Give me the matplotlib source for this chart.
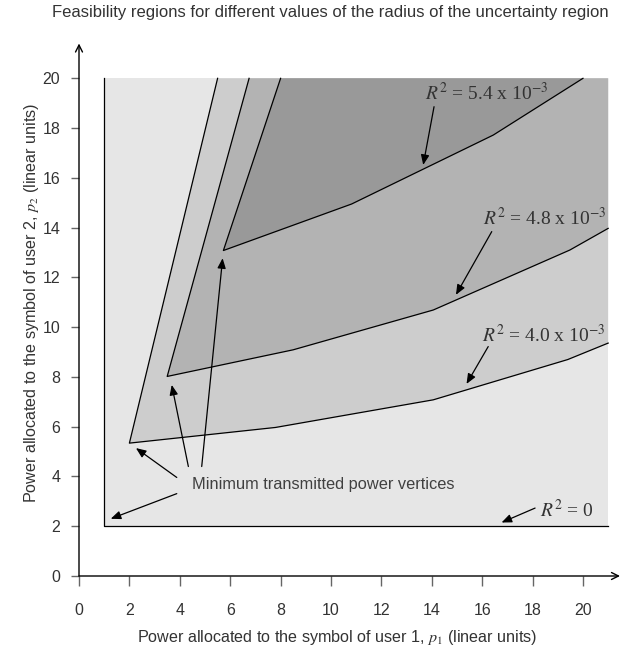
import matplotlib.pyplot as plt

plt.rcParams['font.family'] = ['Liberation Sans', 'DejaVu Sans']
plt.rcParams['mathtext.fontset'] = 'stix'

# Grenzen der Bereiche (p1, p2)
r0_p1 = [1.0, 1.0, 21.0]
r0_p2 = [20.0, 2.0, 2.0]

r40_p1 = [5.5, 2.0, 7.8, 14.06, 19.4, 21.0]
r40_p2 = [20.0, 5.34, 5.97, 7.08, 8.7, 9.36]

r48_p1 = [6.75, 3.5, 8.5, 14.06, 19.48, 21.0]
r48_p2 = [20.0, 8.02, 9.09, 10.69, 13.1, 13.97]

r54_p1 = [8.0, 5.73, 10.82, 16.44, 20.0]
r54_p2 = [20.0, 13.08, 14.95, 17.72, 20.0]

x_ticks = list(range(0, 21, 2))
y_ticks = list(range(0, 21, 2))

p_max = 21.0
txt_col = '#333333'

fig = plt.figure(figsize=(6.2, 6.52), dpi=100)
ax = fig.add_axes([79/620, 76/652, 541/620, 532.5/652])
ax.set_xlim(0, 21.47)
ax.set_ylim(0, 21.4)

# Flaechen (heller -> dunkler)
ax.fill([1, 1, p_max, p_max], [20, 2, 2, 20], color='#e6e6e6', lw=0, zorder=1)
ax.fill(r40_p1 + [p_max], r40_p2 + [20], color='#cdcdcd', lw=0, zorder=2)
ax.fill(r48_p1 + [p_max], r48_p2 + [20], color='#b3b3b3', lw=0, zorder=3)
ax.fill(r54_p1, r54_p2, color='#999999', lw=0, zorder=4)

for px, py in [(r0_p1, r0_p2), (r40_p1, r40_p2), (r48_p1, r48_p2), (r54_p1, r54_p2)]:
    ax.plot(px, py, color='black', lw=0.9, zorder=5)

# Achsen mit Pfeilen
for s in ax.spines.values():
    s.set_visible(False)
ax.annotate('', xy=(1, 0), xytext=(0, 0), xycoords='axes fraction',
            arrowprops=dict(arrowstyle='->,head_length=0.5,head_width=0.25', lw=1, color='black',
                            shrinkA=0, shrinkB=0))
ax.annotate('', xy=(0, 1), xytext=(0, 0), xycoords='axes fraction',
            arrowprops=dict(arrowstyle='->,head_length=0.5,head_width=0.25', lw=1, color='black',
                            shrinkA=0, shrinkB=0))

ax.set_xticks(x_ticks)
ax.set_yticks(y_ticks)
ax.tick_params(axis='x', length=7.5, width=1, color='#666666', pad=12, labelsize=11.5, labelcolor=txt_col)
ax.tick_params(axis='y', length=5.5, width=1, color='#666666', pad=8, labelsize=11.5, labelcolor=txt_col)

ax.set_xlabel(r'Power allocated to the symbol of user 1, $p_{\mathit{1}}$ (linear units)',
              fontsize=11.6, color=txt_col)
ax.set_ylabel(r'Power allocated to the symbol of user 2, $p_{\mathit{2}}$ (linear units)',
              fontsize=11.6, color=txt_col)
# Beschriftungen etwas versetzt wie im Original
ax.xaxis.set_label_coords(0.477, -0.098)
ax.yaxis.set_label_coords(-0.07, 0.513)

fig.text(0.532, 1 - 13/652, 'Feasibility regions for different values of the radius of the uncertainty region',
         ha='center', va='center', fontsize=12, color=txt_col)

arr = dict(arrowstyle='-|>,head_length=0.6,head_width=0.25', color='black', lw=0.9,
           shrinkA=0, shrinkB=0)
serif = ['Liberation Serif', 'DejaVu Serif']

labels = [
    (r'$R^2$ = 5.4 x 10$^{-3}$', (16.2, 19.4), (14.09, 18.86), (13.66, 16.52)),
    (r'$R^2$ = 4.8 x 10$^{-3}$', (18.5, 14.39), (16.38, 13.84), (14.96, 11.3)),
    (r'$R^2$ = 4.0 x 10$^{-3}$', (18.43, 9.69), (16.24, 9.22), (15.38, 7.72)),
    (r'$R^2$ = 0', (19.35, 2.66), (18.1, 2.73), (16.77, 2.15)),
]
for t, pos, a0, a1 in labels:
    ax.text(pos[0], pos[1], t, ha='center', va='center', fontsize=14, color=txt_col,
            family=serif, zorder=7)
    ax.annotate('', xy=a1, xytext=a0, arrowprops=arr, zorder=7)

ax.text(4.47, 3.67, 'Minimum transmitted power vertices', ha='left', va='center',
        fontsize=11.8, color='#404040', zorder=7)
for a0, a1 in [((3.88, 3.96), (2.26, 5.14)), ((3.88, 3.31), (1.26, 2.30)),
               ((4.34, 4.40), (3.68, 7.68)), ((4.87, 4.40), (5.70, 12.77))]:
    ax.annotate('', xy=a1, xytext=a0, arrowprops=arr, zorder=7)

fig.savefig('out.png', dpi=100)
